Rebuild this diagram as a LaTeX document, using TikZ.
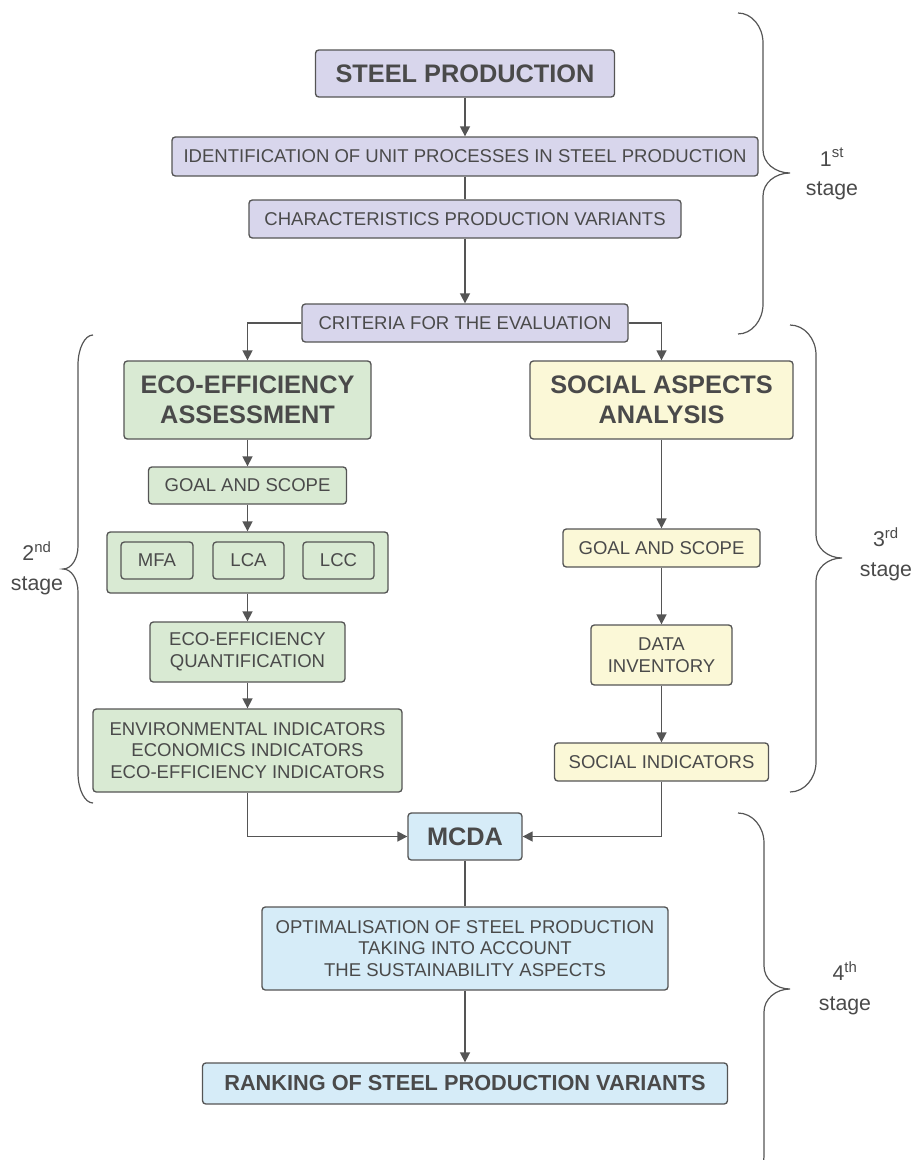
\documentclass[tikz,border=0pt]{standalone}
\usepackage{fontspec}
\setmainfont{Liberation Sans}
\usetikzlibrary{arrows.meta}
\definecolor{purp}{HTML}{D8D6EC}
\definecolor{grn}{HTML}{D9EAD3}
\definecolor{ylw}{HTML}{FBF8D7}
\definecolor{blu}{HTML}{D6ECF8}
\definecolor{ink}{HTML}{4A4A4A}
\definecolor{edgec}{HTML}{555555}
% xe xv xt ytop ytip ybot
\newcommand{\stagebrace}[6]{%
 \draw[bracestyle] (#1,#4) .. controls ({#1+0.55*(#2-#1)},#4) and (#2,#4+13.5) .. (#2,#4+30)
   -- (#2,#5-23) .. controls (#2,#5-10) and ({#3-0.55*(#3-#2)},#5) .. (#3,#5)
   .. controls ({#3-0.55*(#3-#2)},#5) and (#2,#5+10) .. (#2,#5+23)
   -- (#2,#6-30) .. controls (#2,#6-13.5) and ({#1+0.55*(#2-#1)},#6) .. (#1,#6);}
\begin{document}
\begin{tikzpicture}[x=0.75pt,y=-0.75pt,
 box/.style={draw=edgec, line width=1pt, rounded corners=2.5pt, inner sep=0pt, align=center, text=ink, font=\fontsize{13.9}{16.4}\selectfont},
 sz/.style 2 args={minimum width=#1*0.75pt, minimum height=#2*0.75pt},
 big/.style={font=\fontsize{19}{22.5}\selectfont\bfseries},
 arr/.style={draw=edgec, line width=1.2pt, -{Triangle[length=7.5pt,width=7.5pt]}},
 ln/.style={draw=edgec, line width=1.2pt},
 bracestyle/.style={draw=edgec, line width=0.9pt},
 stagelbl/.style={text=ink, align=center, font=\fontsize{16}{22}\selectfont}
]
\useasboundingbox (0,0) rectangle (914,1160);
\clip (0,0) rectangle (914,1160);

% stage 1
\node[box, fill=purp, sz={299}{47}, big] (steel) at (465,73.5) {STEEL PRODUCTION};
\node[box, fill=purp, sz={586}{39}] (ident) at (465,156.5) {IDENTIFICATION OF UNIT PROCESSES IN STEEL PRODUCTION};
\node[box, fill=purp, sz={432}{38}] (charv) at (465,219) {CHARACTERISTICS PRODUCTION VARIANTS};
\node[box, fill=purp, sz={326}{38}] (crit) at (465,323) {CRITERIA FOR THE EVALUATION};

% stage 2
\node[box, fill=grn, sz={247}{78}, big] (eco) at (247.5,400) {ECO-EFFICIENCY\\ASSESSMENT};
\node[box, fill=grn, sz={198}{37}] (egoal) at (247.5,485.5) {GOAL AND SCOPE};
\node[box, fill=grn, sz={281}{61}] (methods) at (247.5,562.5) {};
\node[box, fill=grn, sz={72}{37}] (mfa) at (157,560.5) {MFA};
\node[box, fill=grn, sz={71}{37}] (lca) at (248.5,560.5) {LCA};
\node[box, fill=grn, sz={71}{37}] (lcc) at (338.5,560.5) {LCC};
\node[box, fill=grn, sz={195}{60}] (quant) at (247.5,652) {ECO-EFFICIENCY\\QUANTIFICATION};
\node[box, fill=grn, sz={309}{83}] (env) at (247.5,750.5) {ENVIRONMENTAL INDICATORS\\ECONOMICS INDICATORS\\ECO-EFFICIENCY INDICATORS};

% stage 3
\node[box, fill=ylw, sz={263}{78}, big] (social) at (661.5,400) {SOCIAL ASPECTS\\ANALYSIS};
\node[box, fill=ylw, sz={197}{38}] (sgoal) at (661.5,548) {GOAL AND SCOPE};
\node[box, fill=ylw, sz={141}{60}] (data) at (661.5,655) {DATA\\INVENTORY};
\node[box, fill=ylw, sz={214}{38}] (sind) at (661.5,762) {SOCIAL INDICATORS};

% stage 4
\node[box, fill=blu, sz={114}{47}, big] (mcda) at (465,836.5) {MCDA};
\node[box, fill=blu, sz={406}{83}] (opt) at (465,948.5) {OPTIMALISATION OF STEEL PRODUCTION\\TAKING INTO ACCOUNT\\THE SUSTAINABILITY ASPECTS};
\node[box, fill=blu, sz={525}{41}, font=\fontsize{16.3}{19}\selectfont\bfseries] (rank) at (465,1083.5) {RANKING OF STEEL PRODUCTION VARIANTS};

% connectors
\draw[arr] (steel) -- (ident);
\draw[ln] (ident) -- (charv);
\draw[arr] (charv) -- (crit);
\draw[arr] (crit.west) -| (eco.north);
\draw[arr] (crit.east) -| (social.north);
\draw[arr] (eco) -- (egoal);
\draw[arr] (egoal) -- (methods);
\draw[arr] (methods) -- (quant);
\draw[arr] (quant) -- (env);
\draw[arr] (social) -- (sgoal);
\draw[arr] (sgoal) -- (data);
\draw[arr] (data) -- (sind);
\draw[arr] (env.south) |- (mcda.west);
\draw[arr] (sind.south) |- (mcda.east);
\draw[ln] (mcda) -- (opt);
\draw[arr] (opt) -- (rank);

% braces
\stagebrace{738}{763}{790}{13}{173}{334}
\stagebrace{93}{78}{63}{335}{569}{803}
\stagebrace{790}{816}{842}{325}{558}{792}
\stagebrace{738}{764}{790}{813}{989}{1185}

\node[stagelbl] (s1) at (832,174) {1\textsuperscript{st}\\stage};
\node[stagelbl] (s2) at (37,568) {2\textsuperscript{nd}\\stage};
\node[stagelbl] (s3) at (886,554) {3\textsuperscript{rd}\\stage};
\node[stagelbl] (s4) at (845,988) {4\textsuperscript{th}\\stage};
\end{tikzpicture}
\end{document}
